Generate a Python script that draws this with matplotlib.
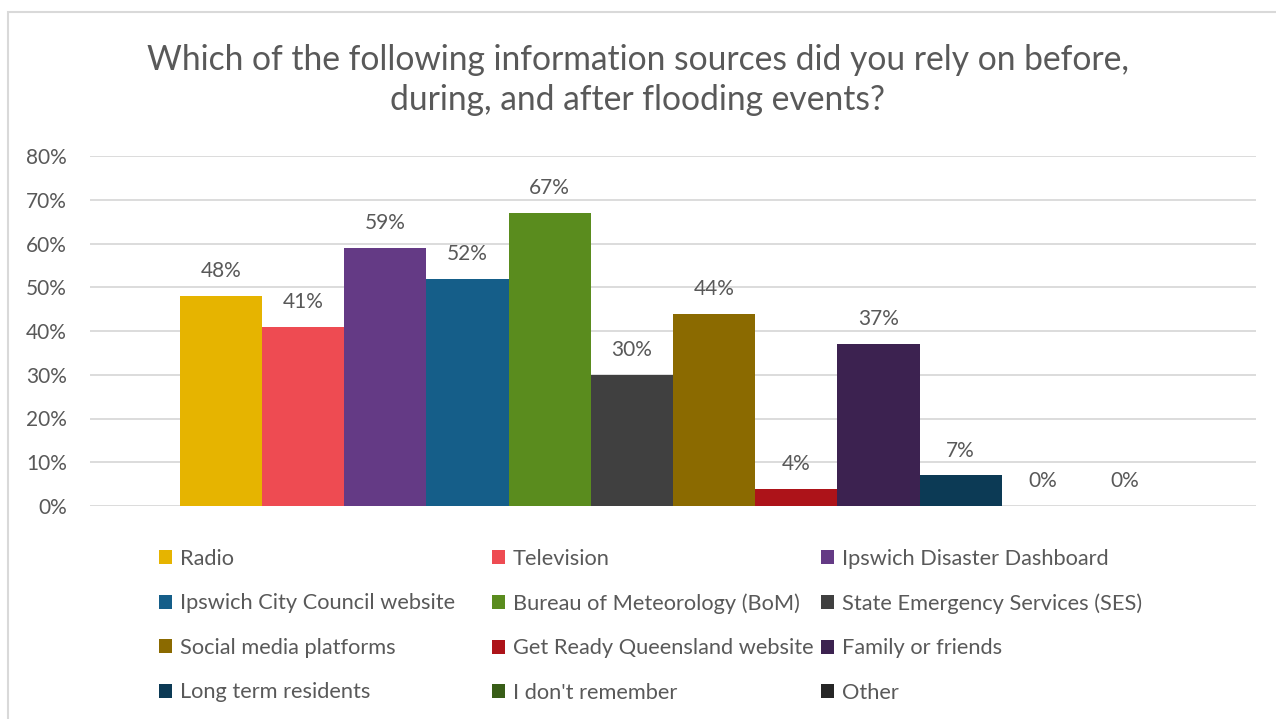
import numpy as np
import matplotlib.pyplot as plt
from matplotlib.patches import Patch, Rectangle

plt.rcParams['font.family'] = ['Lato', 'DejaVu Sans']

title = "Which of the following information sources did you rely on before,\nduring, and after flooding events?"

sources = [
    "Radio", "Television", "Ipswich Disaster Dashboard",
    "Ipswich City Council website", "Bureau of Meteorology (BoM)",
    "State Emergency Services (SES)", "Social media platforms",
    "Get Ready Queensland website", "Family or friends",
    "Long term residents", "I don't remember", "Other",
]
shares = [48, 41, 59, 52, 67, 30, 44, 4, 37, 7, 0, 0]
colors = [
    "#E6B400", "#EE4B52", "#643A85", "#155E89", "#5A8C1E", "#404040",
    "#8B6A00", "#AD1319", "#3C2250", "#0C3A55", "#385D17", "#262626",
]
yticks = [0, 10, 20, 30, 40, 50, 60, 70, 80]

text_col = "#595959"
grid_col = "#D9D9D9"

W, H = 1276, 719
fig = plt.figure(figsize=(W / 100, H / 100), dpi=100)

# chart border
fig.patches.append(Rectangle((8 / W, -0.1), 1.2, (H - 12) / H + 0.1,
                             transform=fig.transFigure, fill=False,
                             edgecolor=grid_col, linewidth=1.5))

ax = fig.add_axes([90 / W, (H - 506) / H, (1256 - 90) / W, 350 / H])
x = np.arange(len(shares))
bars = ax.bar(x, shares, width=1.0, color=colors, zorder=3)

gap = 90 / 82.25
ax.set_xlim(-0.5 - gap, len(shares) - 0.5 + gap)
ax.set_ylim(0, 80)
ax.set_yticks(yticks)
ax.set_yticklabels([f"{v}%" for v in yticks], color=text_col, fontsize=15)
ax.set_xticks([])
ax.tick_params(axis='y', length=0, pad=16.5)
ax.grid(axis='y', color=grid_col, linewidth=1.3, zorder=0)
for s in ax.spines.values():
    s.set_visible(False)

for rect, v in zip(bars, shares):
    ax.annotate(f"{v}%", (rect.get_x() + rect.get_width() / 2, v),
                xytext=(0, 13.5), textcoords='offset points',
                ha='center', va='baseline', fontsize=15, color=text_col)

fig.text(0.5, 1 - 80 / H, title, ha='center', va='center', fontsize=24.2,
         color=text_col, linespacing=1.27)

# legend: three columns, read row by row
col_x = [159, 492, 821]
for c in range(3):
    idx = [c + 3 * r for r in range(4)]
    handles = [Patch(facecolor=colors[i]) for i in idx]
    leg = fig.legend(handles, [sources[i] for i in idx],
                     loc='upper left', bbox_to_anchor=(col_x[c] / W, 1 - 549 / H),
                     frameon=False, fontsize=15.7, labelcolor=text_col,
                     handlelength=0.6, handleheight=0.6, handletextpad=0.35,
                     labelspacing=1.12, borderpad=0, borderaxespad=0)

fig.savefig("out.png", dpi=100)
